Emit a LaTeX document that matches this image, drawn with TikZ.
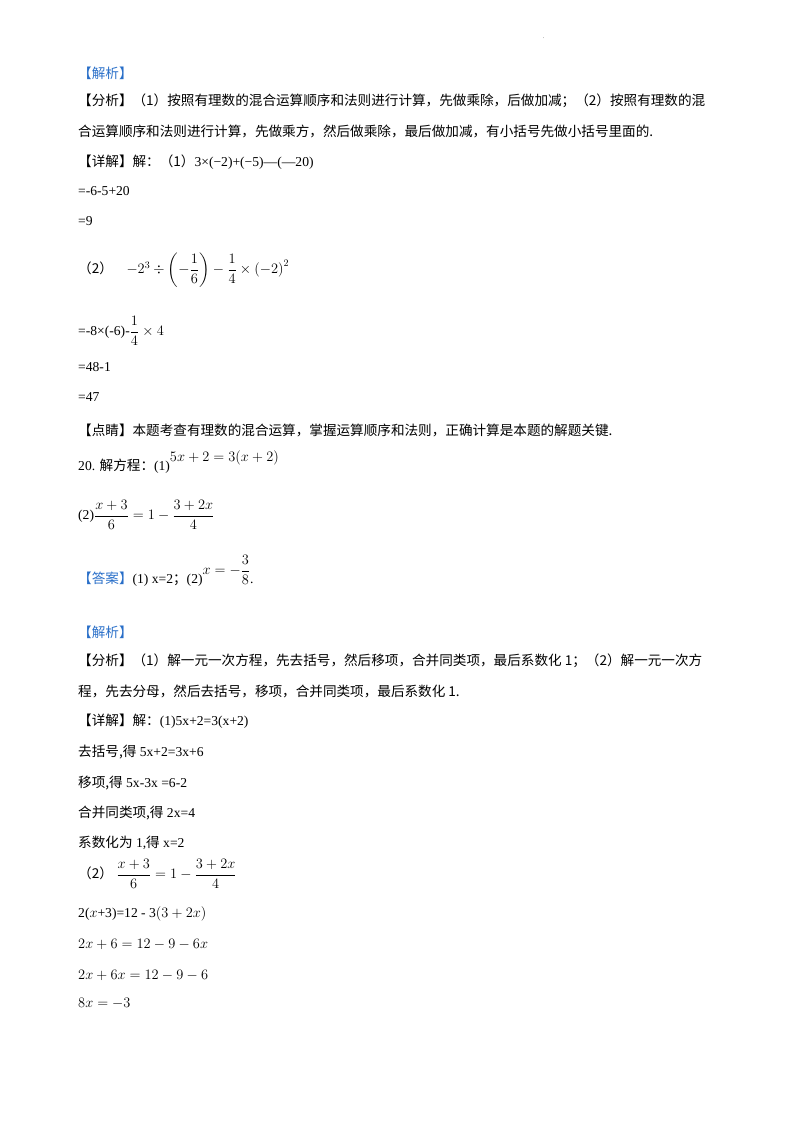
\documentclass[tikz,border=0pt]{standalone}
\usepackage{amsmath}
\usepackage{fontspec}
\setmainfont{Liberation Serif}
\newfontfamily\cjk{Noto Sans CJK SC}
\definecolor{hdblue}{RGB}{40,110,200}
\begin{document}
\begin{tikzpicture}[x=1pt,y=-1pt,
  ln/.style={anchor=west,inner sep=0pt,font=\fontsize{13.6}{16}\selectfont},
  bl/.style={ln,text=hdblue}]
\useasboundingbox (0,0) rectangle (800,1132);
\node[ln,font=\tiny] (dot) at (543,38) {.};
\node[bl] (t1) at (78,73) {\cjk 【解析】};
\node[ln] (t2) at (78,101) {\cjk 【分析】（1）按照有理数的混合运算顺序和法则进行计算，先做乘除，后做加减；（2）按照有理数的混};
\node[ln] (t3) at (78,131) {\cjk 合运算顺序和法则进行计算，先做乘方，然后做乘除，最后做加减，有小括号先做小括号里面的.};
\node[ln] (t4) at (78,162) {{\cjk 【详解】解：（1）}3×(−2)+(−5)—(—20)};
\node[ln] (t5) at (78,191) {=-6-5+20};
\node[ln] (t6) at (78,221) {=9};
\node[ln] (t7) at (78,270) {{\cjk （2）}\quad $-2^3\div\left(-\dfrac{1}{6}\right)-\dfrac{1}{4}\times\left(-2\right)^2$};
\node[ln] (t8) at (78,331) {=-8×(-6)-$\dfrac{1}{4}\times 4$};
\node[ln] (t9) at (78,367) {=48-1};
\node[ln] (t10) at (78,397) {=47};
\node[ln] (t11) at (78,430) {\cjk 【点睛】本题考查有理数的混合运算，掌握运算顺序和法则，正确计算是本题的解题关键.};
\node[ln] (t12) at (78,462) {20. {\cjk 解方程：}(1)\raisebox{9pt}{$5x+2=3(x+2)$}};
\node[ln] (t13) at (78,515) {(2)$\dfrac{x+3}{6}=1-\dfrac{3+2x}{4}$};
\node[ln] (t14) at (78,571) {{\cjk\color{hdblue}【答案】}(1) x=2{\cjk ；}(2)\raisebox{9pt}{$x=-\dfrac{3}{8}$}.};
\node[bl] (t15) at (78,632) {\cjk 【解析】};
\node[ln] (t16) at (78,661) {\cjk 【分析】（1）解一元一次方程，先去括号，然后移项，合并同类项，最后系数化 1；（2）解一元一次方};
\node[ln] (t17) at (78,691) {\cjk 程，先去分母，然后去括号，移项，合并同类项，最后系数化 1.};
\node[ln] (t18) at (78,721) {{\cjk 【详解】解：}(1)5x+2=3(x+2)};
\node[ln] (t19) at (78,752) {{\cjk 去括号,得} 5x+2=3x+6};
\node[ln] (t20) at (78,783) {{\cjk 移项,得} 5x-3x =6-2};
\node[ln] (t21) at (78,813) {{\cjk 合并同类项,得} 2x=4};
\node[ln] (t22) at (78,843) {{\cjk 系数化为} 1,{\cjk 得} x=2};
\node[ln] (t23) at (78,874) {{\cjk （2）}\ $\dfrac{x+3}{6}=1-\dfrac{3+2x}{4}$};
\node[ln] (t24) at (78,914) {2($x$+3)=12 - 3$(3+2x)$};
\node[ln] (t25) at (78,944) {$2x+6=12-9-6x$};
\node[ln] (t26) at (78,975) {$2x+6x=12-9-6$};
\node[ln] (t27) at (78,1003) {$8x=-3$};
\end{tikzpicture}
\end{document}
